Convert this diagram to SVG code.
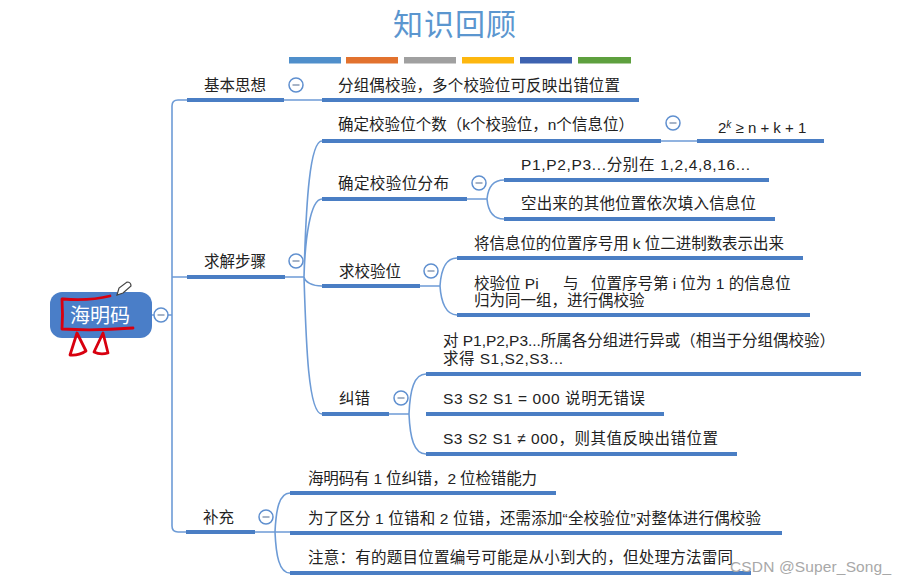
<svg xmlns="http://www.w3.org/2000/svg" width="907" height="585" viewBox="0 0 907 585">
<style>
text{font-family:"Liberation Sans","Noto Sans CJK SC",sans-serif;fill:#222;font-size:15.5px}
.thick{stroke:#4a7ec4;stroke-width:4;fill:none}
.thin{stroke:#6d9bd6;stroke-width:1.6;fill:none}
.c circle{fill:#fff;stroke:#5f8fcf;stroke-width:1.5}
.c path{stroke:#8a9bb5;stroke-width:1.5}
.red{fill:none;stroke:#d8000f;stroke-width:2.8;stroke-linejoin:round;stroke-linecap:round}
</style>
<defs>
<g id="col" class="c"><circle r="7"/><path d="M-3.5 0H3.5"/></g>
</defs>
<rect width="907" height="585" fill="#fff"/>
<g id="title">
<text x="455" y="34.5" text-anchor="middle" style="font-size:30px;fill:#5b96cf;letter-spacing:1px">知识回顾</text>
<rect x="289" y="57" width="52" height="6.5" fill="#4f8fcb"/>
<rect x="346" y="57" width="52" height="6.5" fill="#e2722e"/>
<rect x="404" y="57" width="52" height="6.5" fill="#a0a0a0"/>
<rect x="462" y="57" width="52" height="6.5" fill="#fdb70f"/>
<rect x="520" y="57" width="52" height="6.5" fill="#3d62b0"/>
<rect x="578" y="57" width="53" height="6.5" fill="#5ea03e"/>
</g>
<g id="connectors">
<path class="thin" d="M152 315H172M187 100H178Q172 100 172 106V526Q172 532 178 532H187M172 277H187"/>
<path class="thin" d="M284 100H322M285 277H304M322 141C310 141 306 200 304 277M322 199C310 199 305 240 304 277M322 286C312 286 305 282 304 277M322 414C308 414 306 340 304 277"/>
<path class="thin" d="M661 141H697M467 199H487M504 180C492 180 488 188 487 199M504 219C492 219 488 210 487 199M420 286H440M457 258C446 258 441 270 440 286M457 315C446 315 441 302 440 286M389 414H409M426 374C414 374 410 390 409 414M426 454C414 454 410 438 409 414M255 532H275M290 493C279 493 276 510 275 532M290 573C279 573 276 555 275 532M275 532H290"/>
</g>
<g id="root">
<rect x="50" y="292" width="102" height="46" rx="12" fill="#4a7ec8"/>
<text x="100" y="323" text-anchor="middle" style="font-size:20px;fill:#fff">海明码</text>
<use href="#col" x="161" y="315"/>
<path class="red" d="M62 299Q63 315 62 329Q95 331 133 328M63 299Q90 301 110 296M77 333L86 351Q78 356 70 355ZM103 333L108 353Q100 355 94 352Z"/>
<path d="M117 295L119 288L127 282Q131 282 131 286L123 293Z" fill="#fff" stroke="#444" stroke-width="1.2"/>
</g>
<g id="n-jiben">
<text x="204" y="91" textLength="62">基本思想</text>
<path class="thick" d="M187 100H284"/>
<use href="#col" x="296" y="85"/>
</g>
<g id="n-fenzu">
<text x="338" y="91" textLength="282">分组偶校验，多个校验位可反映出错位置</text>
<path class="thick" d="M322 100H639"/>
</g>
<g id="n-qiujie">
<text x="204" y="267" textLength="62">求解步骤</text>
<path class="thick" d="M187 277H285"/>
<use href="#col" x="296" y="261"/>
</g>
<g id="n-queding">
<text x="338" y="130" textLength="296">确定校验位个数（k个校验位，n个信息位）</text>
<path class="thick" d="M322 141H661"/>
<use href="#col" x="673" y="123"/>
</g>
<g id="n-formula">
<text x="718" y="133" style="font-size:15px">2<tspan dy="-5" font-size="10" font-style="italic">k</tspan><tspan dy="5"> ≥ n + k + 1</tspan></text>
<path class="thick" d="M697 141H824"/>
</g>
<g id="n-fenbu">
<text x="338" y="189" textLength="111">确定校验位分布</text>
<path class="thick" d="M322 199H467"/>
<use href="#col" x="479" y="183"/>
</g>
<g id="n-p1">
<text x="521" y="170" textLength="229">P1,P2,P3...分别在 1,2,4,8,16...</text>
<path class="thick" d="M504 180H769"/>
</g>
<g id="n-kong">
<text x="521" y="209" textLength="235">空出来的其他位置依次填入信息位</text>
<path class="thick" d="M504 219H775"/>
</g>
<g id="n-qiu">
<text x="339" y="277" textLength="62">求校验位</text>
<path class="thick" d="M322 286H420"/>
<use href="#col" x="431" y="271"/>
</g>
<g id="n-jiang">
<text x="474" y="249" textLength="310">将信息位的位置序号用 k 位二进制数表示出来</text>
<path class="thick" d="M457 258H803"/>
</g>
<g id="n-pi">
<text y="289"><tspan x="474">校验位 Pi</tspan><tspan x="563">与</tspan><tspan x="591">位置序号第 i 位为 1 的信息位</tspan><tspan x="474" dy="17">归为同一组，进行偶校验</tspan></text>
<path class="thick" d="M457 315H810"/>
</g>
<g id="n-jiu">
<text x="339" y="404" textLength="31">纠错</text>
<path class="thick" d="M322 414H389"/>
<use href="#col" x="401" y="398"/>
</g>
<g id="n-dui">
<text y="346"><tspan x="443" textLength="392">对 P1,P2,P3...所属各分组进行异或（相当于分组偶校验）</tspan><tspan x="443" dy="18" textLength="120">求得 S1,S2,S3...</tspan></text>
<path class="thick" d="M426 374H861"/>
</g>
<g id="n-s0">
<text x="443" y="404" textLength="202">S3 S2 S1 = 000 说明无错误</text>
<path class="thick" d="M426 414H664"/>
</g>
<g id="n-s1">
<text x="443" y="444" textLength="275">S3 S2 S1 ≠ 000，则其值反映出错位置</text>
<path class="thick" d="M426 454H737"/>
</g>
<g id="n-buchong">
<text x="203" y="523" textLength="31">补充</text>
<path class="thick" d="M186 532H255"/>
<use href="#col" x="266" y="517"/>
</g>
<g id="n-hai">
<text x="308" y="484" textLength="229">海明码有 1 位纠错，2 位检错能力</text>
<path class="thick" d="M290 493H556"/>
</g>
<g id="n-qufen">
<text x="308" y="524" textLength="453">为了区分 1 位错和 2 位错，还需添加“全校验位”对整体进行偶校验</text>
<path class="thick" d="M290 533H782"/>
</g>
<g id="n-zhuyi">
<text x="308" y="563" textLength="425">注意：有的题目位置编号可能是从小到大的，但处理方法雷同</text>
<path class="thick" d="M290 573H751"/>
</g>
<text id="watermark" x="730" y="572" textLength="161" style="font-size:15.5px;fill:#a8a8a8">CSDN @Super_Song_</text>
</svg>
